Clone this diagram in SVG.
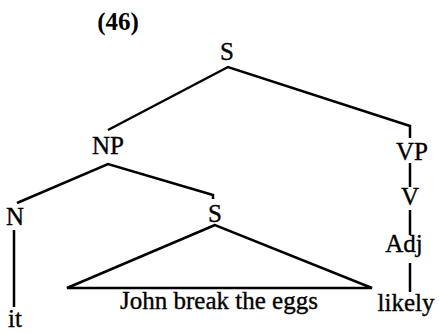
<svg xmlns="http://www.w3.org/2000/svg" width="439" height="333" viewBox="0 0 439 333">
<style>
text{font-family:"Liberation Serif","Times New Roman",serif;font-size:25px;fill:#000;stroke:#000;stroke-width:0.35;text-anchor:middle}
.b{font-weight:bold;stroke-width:0}
.e{stroke:#000;stroke-width:2.5;fill:none;stroke-linejoin:miter}
</style>
<rect width="439" height="333" fill="#fff"/>
<text class="b" x="118" y="30" font-size="24">(46)</text>
<g id="n-S"><text x="227" y="60">S</text></g>
<g id="n-NP"><text x="108" y="154">NP</text></g>
<g id="n-VP"><text x="412" y="160">VP</text></g>
<g id="n-N"><text x="15" y="225">N</text></g>
<g id="n-S2"><text x="215" y="222">S</text></g>
<g id="n-V"><text x="410" y="205">V</text></g>
<g id="n-Adj"><text x="404" y="252">Adj</text></g>
<g id="n-it"><text x="15" y="327">it</text></g>
<g id="n-john"><text x="219" y="309">John break the eggs</text></g>
<g id="n-likely"><text x="406" y="311">likely</text></g>
<g id="connectors">
<polyline class="e" points="108,130 228,67 410,126 410,138"/>
<polyline class="e" points="17,203 108,164 213,195 213,199"/>
<line class="e" x1="14" y1="230" x2="14" y2="307"/>
<polygon class="e" points="215,225 67,288 372,288"/>
<line class="e" x1="410" y1="163" x2="410" y2="187"/>
<line class="e" x1="410" y1="210" x2="410" y2="235"/>
<line class="e" x1="410" y1="263" x2="410" y2="292"/>
</g>
</svg>
